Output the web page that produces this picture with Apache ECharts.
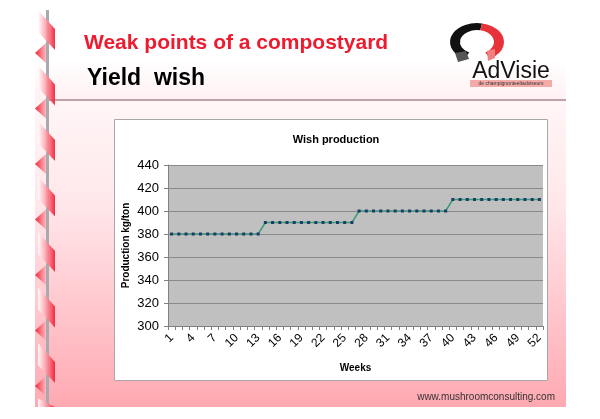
<!DOCTYPE html>
<html><head><meta charset="utf-8">
<script src="https://cdn.jsdelivr.net/npm/echarts@6/dist/echarts.min.js"></script>
<style>html,body{margin:0;padding:0;background:#fff}#c{width:600px;height:419px}</style>
</head><body><div id="c"></div>
<script>
const weeks = ['1','2','3','4','5','6','7','8','9','10','11','12','13','14','15','16','17','18','19','20','21','22','23','24','25','26','27','28','29','30','31','32','33','34','35','36','37','38','39','40','41','42','43','44','45','46','47','48','49','50','51','52'];
const wishProduction = [380,380,380,380,380,380,380,380,380,380,380,380,380,
  390,390,390,390,390,390,390,390,390,390,390,390,390,
  400,400,400,400,400,400,400,400,400,400,400,400,400,
  410,410,410,410,410,410,410,410,410,410,410,410,410];
const yTicks = {min:300, max:440, step:20};
const slideTitle = 'Weak points of a compostyard';
const slideSubtitle = 'Yield  wish';
const chartTitle = 'Wish production';
const yName = 'Production kg/ton';
const xName = 'Weeks';

const FONT = '"Liberation Sans", Arial, sans-serif';
const chart = echarts.init(document.getElementById('c'), null, {renderer:'canvas'});

const g = [];
// slide background
g.push({type:'rect', z:-10, shape:{x:35,y:60,width:531,height:41},
  style:{fill:{type:'linear',x:0,y:0,x2:0,y2:1,colorStops:[{offset:0,color:'#ffffff'},{offset:1,color:'#fff0f2'}]}}});
g.push({type:'rect', z:-10, shape:{x:35,y:101,width:531,height:306},
  style:{fill:{type:'linear',x:0,y:0,x2:0,y2:1,colorStops:[{offset:0,color:'#fff6f7'},{offset:0.35,color:'#ffe6e9'},{offset:1,color:'#ffa9b2'}]}}});
// header line
g.push({type:'rect', z:-5, shape:{x:47,y:99,width:519,height:2}, style:{fill:'#bda3a9'}});
// left decoration
const per = 55.5;
for (let k = -1; k < 8; k++) {
  const t = 53 + per*k;
  if (t - 10 < 407 && t+10 > 8) {
    g.push({type:'polygon', z:-4, shape:{points:[[35,t],[47,Math.max(t-11,8)],[47,Math.min(t+11,407)]]},
      style:{fill:{type:'linear',x:0,y:0,x2:1,y2:0,colorStops:[{offset:0,color:'#f02a3c'},{offset:1,color:'#ffc4ca'}]}}});
  }
  const top = t - 43;
  const pts = [[38,top],[55,top+19],[55,top+40],[38,top+22]].map(p=>[p[0],Math.min(Math.max(p[1],10),407)]);
  g.push({type:'polygon', z:-2, shape:{points:pts},
    style:{opacity:0.9, fill:{type:'linear',x:0,y:0,x2:1,y2:0,colorStops:[{offset:0,color:'#ffffff'},{offset:0.5,color:'#ff9aa4'},{offset:1,color:'#f01830'}]}}});
}
g.push({type:'rect', z:-3, shape:{x:46,y:10,width:3,height:397}, style:{fill:'#a9aab0'}});
// titles
g.push({type:'text', x:84, y:43, style:{text:slideTitle, font:'bold 21px '+FONT, fill:'#ee1b2f', verticalAlign:'middle'}});
g.push({type:'text', x:87, y:79, style:{text:slideSubtitle, font:'bold 23px '+FONT, fill:'#000', verticalAlign:'middle'}});
// logo
g.push({type:'sector', x:477, y:42, scaleY:0.7, shape:{cx:0,cy:0,r:27,r0:17,startAngle:2.05,endAngle:4.9,clockwise:true}, style:{fill:'#111'}});
g.push({type:'sector', x:477, y:42, scaleY:0.7, shape:{cx:0,cy:0,r:27,r0:17,startAngle:4.9,endAngle:7.35,clockwise:true}, style:{fill:'#e8323a'}});
g.push({type:'polygon', shape:{points:[[455,53],[466,51],[469,59],[458,62]]}, style:{fill:'#555'}});
g.push({type:'polygon', shape:{points:[[487,51],[495,49],[495,58],[488,61]]}, style:{fill:'#f08080'}});
g.push({type:'text', x:511, y:72, style:{text:'AdVisie', font:'23px '+FONT, fill:'#111', align:'center', verticalAlign:'middle'}});
g.push({type:'rect', shape:{x:470,y:80,width:82,height:7}, style:{fill:'#f4aaa8'}});
g.push({type:'text', x:511, y:83.5, style:{text:'de champignonteeltadviseurs', font:'5px '+FONT, fill:'#333', align:'center', verticalAlign:'middle'}});
// chart box
g.push({type:'rect', z:-1, shape:{x:114.5,y:119.5,width:433,height:261}, style:{fill:'#ffffff', stroke:'#a8a8a8', lineWidth:1}});
// footer
g.push({type:'text', x:555, y:397, style:{text:'www.mushroomconsulting.com', font:'10px '+FONT, fill:'#333', align:'right', verticalAlign:'middle'}});

chart.setOption({
  animation:false,
  backgroundColor:'#ffffff',
  title:{text:chartTitle, left:331, top:129, textAlign:'center',
    textStyle:{fontFamily:FONT, fontSize:11, fontWeight:'bold', color:'#000'}},
  graphic:g,
  grid:{left:168, right:57, top:165, bottom:93, show:true, backgroundColor:'#c0c0c0', borderWidth:0, containLabel:false},
  xAxis:{type:'category', data:weeks, boundaryGap:true,
    axisLine:{show:true, lineStyle:{color:'#808080', width:1}},
    axisTick:{show:true, interval:0, length:4, lineStyle:{color:'#808080'}},
    axisLabel:{interval:2, rotate:45, fontSize:12, fontFamily:FONT, color:'#000', margin:10, hideOverlap:false},
    name:xName, nameLocation:'middle', nameGap:37, nameMoveOverlap:false,
    nameTextStyle:{fontFamily:FONT, fontSize:10, fontWeight:'bold', color:'#000'}},
  yAxis:{type:'value', min:yTicks.min, max:yTicks.max, interval:yTicks.step,
    axisLine:{show:true, lineStyle:{color:'#808080', width:1}},
    axisTick:{show:true, length:4, lineStyle:{color:'#808080'}},
    splitLine:{show:true, lineStyle:{color:'#8a8a8a', width:1}},
    axisLabel:{fontSize:13, fontFamily:FONT, color:'#000', margin:9},
    name:yName, nameLocation:'middle', nameGap:37, nameRotate:90, nameMoveOverlap:false,
    nameTextStyle:{fontFamily:FONT, fontSize:10, fontWeight:'bold', color:'#000'}},
  series:[{type:'line', data:wishProduction, symbol:'rect', symbolSize:3, showSymbol:true,
    lineStyle:{color:'#3a9c7c', width:1.5}, itemStyle:{color:'#1a3c66'}, z:3}]
});
</script></body></html>
